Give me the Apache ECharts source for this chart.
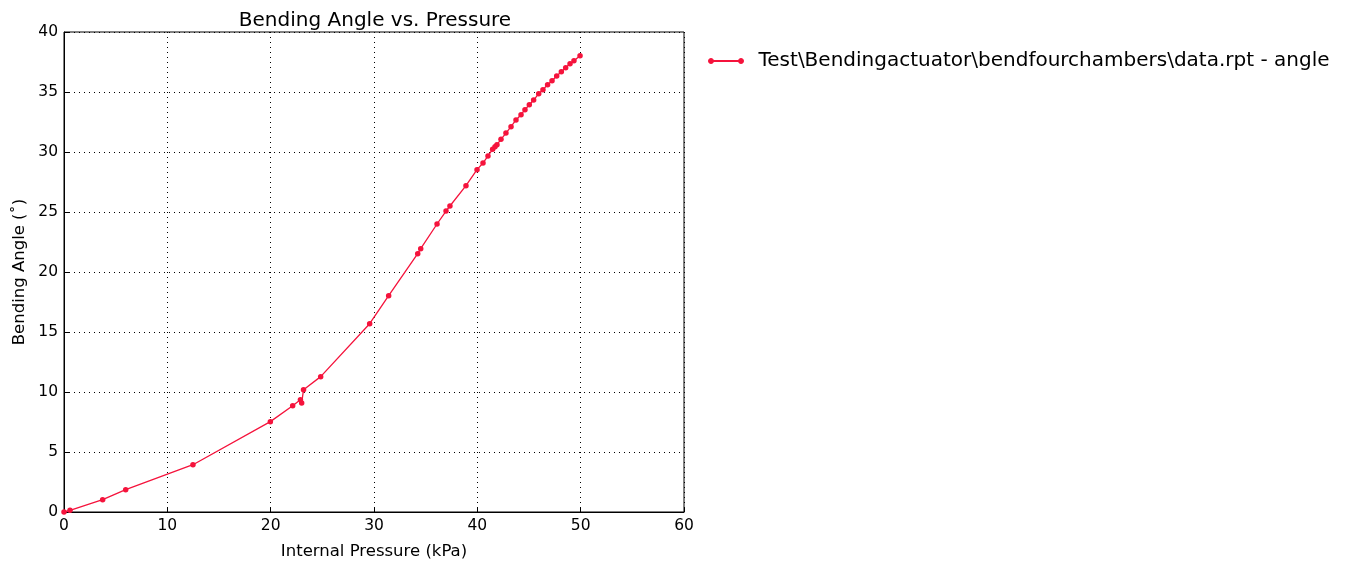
<!DOCTYPE html>
<html lang="en">
<head>
    <meta charset="UTF-8">
    <title>Bending Angle vs. Pressure</title>
    <script src="https://cdn.jsdelivr.net/npm/echarts@6/dist/echarts.min.js"></script>
    <style>
        html, body { margin: 0; padding: 0; background: #fff; }
        #main { width: 1348px; height: 570px; }
    </style>
</head>
<body>
    <div id="main"></div>
    <script>
        // pressure (kPa) and bending angle (deg)
        var pressure = [0, 0.58, 3.74, 5.97, 12.48, 19.97, 22.13, 22.88, 23.0, 23.18, 24.84,
            29.58, 31.42, 34.23, 34.52, 36.1, 36.97, 37.35, 38.9, 39.97, 40.55, 41.03,
            41.48, 41.71, 41.9, 42.29, 42.77, 43.26, 43.74, 44.23, 44.61, 45.03, 45.45,
            45.94, 46.35, 46.8, 47.23, 47.68, 48.13, 48.55, 48.97, 49.35, 49.94];
        var angle = [0, 0.14, 1.03, 1.86, 3.94, 7.53, 8.86, 9.36, 9.08, 10.19, 11.28,
            15.69, 18.03, 21.53, 21.94, 24.0, 25.08, 25.5, 27.19, 28.53, 29.08, 29.67,
            30.22, 30.44, 30.61, 31.06, 31.58, 32.11, 32.67, 33.11, 33.53, 33.94, 34.33,
            34.86, 35.19, 35.61, 35.94, 36.33, 36.69, 37.03, 37.36, 37.61, 38.03];
        var seriesName = 'Test\\Bendingactuator\\bendfourchambers\\data.rpt - angle';

        var lineColor = '#f5133c';
        var font = 'DejaVu Sans';

        var points = [];
        for (var i = 0; i < pressure.length; i++) {
            points.push([pressure[i], angle[i]]);
        }

        // legend icon: line with a dot at each end (matplotlib style)
        var legendIcon = 'path://M2.5,2 L32.5,2 L32.5,3 L2.5,3 Z ' +
            'M0,2.5 A2.5,2.5 0 1 0 5,2.5 A2.5,2.5 0 1 0 0,2.5 Z ' +
            'M30,2.5 A2.5,2.5 0 1 0 35,2.5 A2.5,2.5 0 1 0 30,2.5 Z';

        var myChart = echarts.init(document.getElementById('main'));
        var option = {
            animation: false,
            textStyle: { fontFamily: font },
            title: {
                text: 'Bending Angle vs. Pressure',
                left: 370,
                textAlign: 'center',
                top: 6,
                textStyle: { fontFamily: font, fontSize: 20, fontWeight: 'normal', color: '#000' }
            },
            legend: {
                left: 703,
                top: 46,
                itemWidth: 35,
                itemHeight: 5,
                icon: legendIcon,
                itemStyle: { color: lineColor, borderColor: lineColor, borderWidth: 1 },
                textStyle: { fontFamily: font, fontSize: 20, color: '#000', padding: [0, 0, 0, 10] },
                data: [seriesName]
            },
            grid: {
                left: 64, right: 664, top: 32, bottom: 58,
                show: true,
                borderColor: '#000',
                borderWidth: 1
            },
            xAxis: {
                type: 'value',
                min: 0, max: 60, interval: 10,
                name: 'Internal Pressure (kPa)',
                nameLocation: 'middle',
                nameGap: 31,
                nameTextStyle: { fontFamily: font, fontSize: 16.5, color: '#000' },
                axisLine: { show: true, lineStyle: { color: '#000' } },
                axisTick: { show: true, inside: true, length: 5, lineStyle: { color: '#000' } },
                axisLabel: { fontFamily: font, fontSize: 15.5, color: '#000', margin: 6 },
                splitLine: { show: true, lineStyle: { color: '#000', type: [1, 4], width: 1 } }
            },
            yAxis: {
                type: 'value',
                min: 0, max: 40, interval: 5,
                name: 'Bending Angle (˚)',
                nameLocation: 'middle',
                nameGap: 36,
                nameTextStyle: { fontFamily: font, fontSize: 16.5, color: '#000' },
                axisLine: { show: true, lineStyle: { color: '#000' } },
                axisTick: { show: true, inside: true, length: 5, lineStyle: { color: '#000' } },
                axisLabel: { fontFamily: font, fontSize: 15.5, color: '#000', margin: 6 },
                splitLine: { show: true, lineStyle: { color: '#000', type: [1, 4], width: 1 } }
            },
            series: [{
                name: seriesName,
                type: 'line',
                data: points,
                symbol: 'circle',
                symbolSize: 5.5,
                showAllSymbol: true,
                lineStyle: { color: lineColor, width: 1.3 },
                itemStyle: { color: lineColor }
            }]
        };
        myChart.setOption(option);
    </script>
</body>
</html>
